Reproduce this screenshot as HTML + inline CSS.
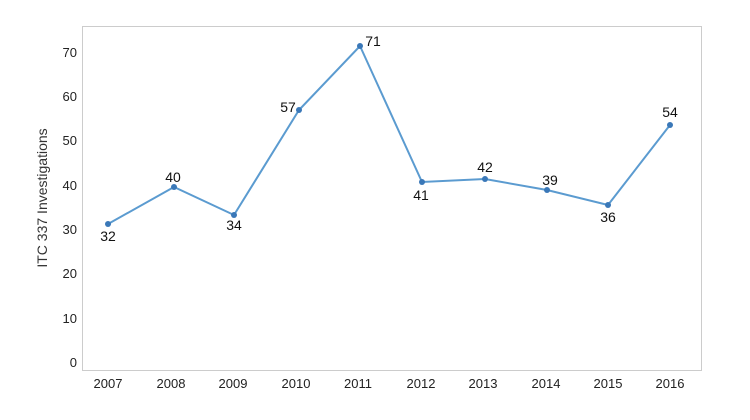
<!DOCTYPE html>
<html><head><style>body{margin:0;background:#fff}svg{display:block;font-family:"Liberation Sans",sans-serif}</style></head>
<body>
<svg width="750" height="420" xmlns="http://www.w3.org/2000/svg">
<rect x="82.5" y="26.5" width="619" height="344" fill="none" stroke="#ccc"/>
<g font-size="13" fill="#222" text-anchor="end">
<text x="77" y="367">0</text><text x="77" y="323">10</text><text x="77" y="278">20</text><text x="77" y="234">30</text><text x="77" y="190">40</text><text x="77" y="145">50</text><text x="77" y="101">60</text><text x="77" y="57">70</text>
</g>
<g font-size="13" fill="#222" text-anchor="middle">
<text x="108" y="388">2007</text><text x="171" y="388">2008</text><text x="233" y="388">2009</text><text x="296" y="388">2010</text><text x="358" y="388">2011</text><text x="421" y="388">2012</text><text x="483" y="388">2013</text><text x="546" y="388">2014</text><text x="608" y="388">2015</text><text x="670" y="388">2016</text>
</g>
<text transform="translate(47,198) rotate(-90)" font-size="14" fill="#333" text-anchor="middle">ITC 337 Investigations</text>
<polyline fill="none" stroke="#5b9bd0" stroke-width="2" points="108,224 174,187 234,215 299,110 360,46 422,182 485,179 547,190 608,205 670,125"/>
<g fill="#3a78b8">
<circle cx="108" cy="224" r="3"/><circle cx="174" cy="187" r="3"/><circle cx="234" cy="215" r="3"/><circle cx="299" cy="110" r="3"/><circle cx="360" cy="46" r="3"/><circle cx="422" cy="182" r="3"/><circle cx="485" cy="179" r="3"/><circle cx="547" cy="190" r="3"/><circle cx="608" cy="205" r="3"/><circle cx="670" cy="125" r="3"/>
</g>
<g font-size="14" fill="#111" text-anchor="middle">
<text x="108" y="241">32</text><text x="173" y="182">40</text><text x="234" y="230">34</text><text x="288" y="112">57</text><text x="373" y="46">71</text><text x="421" y="200">41</text><text x="485" y="172">42</text><text x="550" y="185">39</text><text x="608" y="222">36</text><text x="670" y="117">54</text>
</g>
</svg>
</body></html>
